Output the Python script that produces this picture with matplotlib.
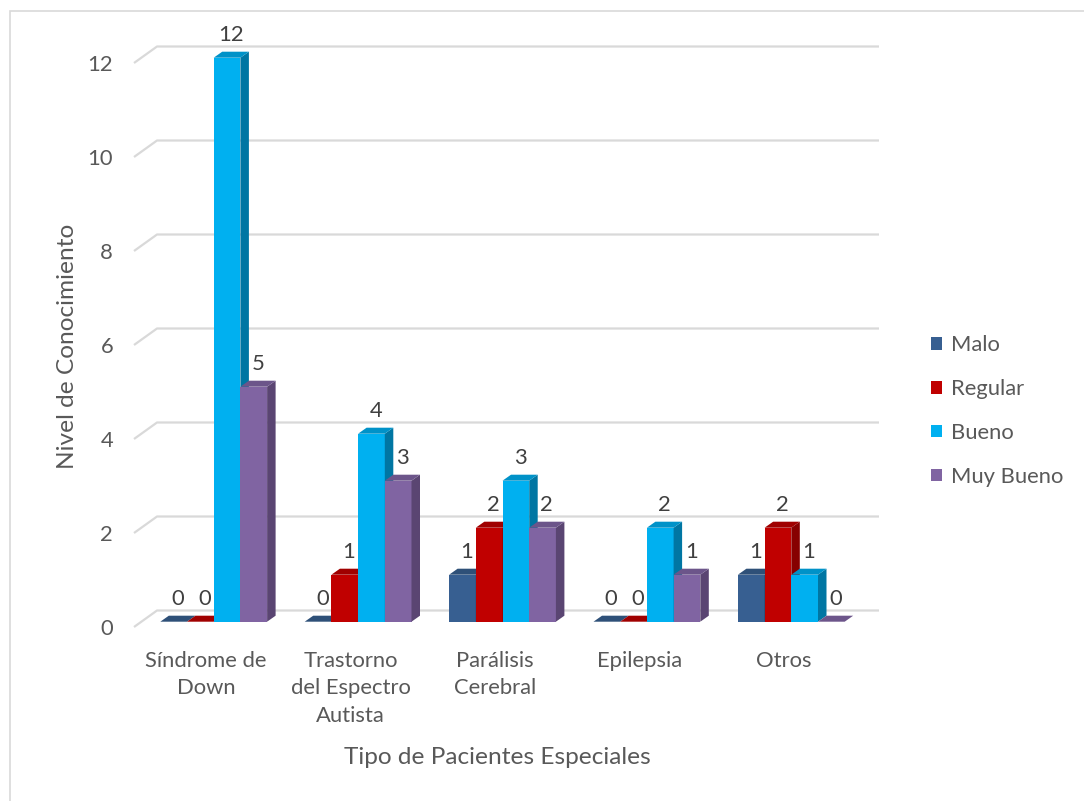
import matplotlib
matplotlib.use('Agg')
import matplotlib.pyplot as plt
from matplotlib.patches import Polygon, Rectangle, Patch

plt.rcParams['font.family'] = ['Lato', 'DejaVu Sans']

categorias = ['Síndrome de\nDown', 'Trastorno\ndel Espectro\nAutista', 'Parálisis\nCerebral', 'Epilepsia', 'Otros']
series = ['Malo', 'Regular', 'Bueno', 'Muy Bueno']
malo = [0, 0, 1, 0, 1]
regular = [0, 1, 2, 0, 2]
bueno = [12, 4, 3, 2, 1]
muy_bueno = [5, 3, 2, 1, 0]
yticks = [0, 2, 4, 6, 8, 10, 12]

datos = [malo, regular, bueno, muy_bueno]
# front, side, top
colores = [('#375F91', '#243F60', '#2E5078'),
           ('#C00000', '#870000', '#A00000'),
           ('#00B0F0', '#0076A3', '#0092C8'),
           ('#8064A2', '#5A4572', '#6C558A')]
gris = '#595959'
fs = 15.8
fs_tit = 17.6

W, H = 1084, 801
fig = plt.figure(figsize=(W / 100, H / 100), dpi=100)
ax = fig.add_axes([134 / W, 1 - 627 / H, 722 / W, 564 / H])
ax.set_xlim(0, 5)
ax.set_ylim(0, 12)

sx, sy = 722 / 5, 564 / 12
wdx, wdy = 23 / sx, 16.5 / sy      # wall depth
bx0, by0 = 7.5 / sx, 5.3 / sy      # bar front plane
bdx, bdy = 8.5 / sx, 6 / sy        # bar depth
bw = 26.7 / sx

# gridlines on back wall + left diagonal
for v in yticks:
    ax.plot([0, wdx, 5 + wdx], [v, v + wdy, v + wdy], color='#D9D9D9', lw=1.6,
            clip_on=False, zorder=0, solid_capstyle='butt')

xs = [i + 0.5 for i in range(len(categorias))]
for j, vals in enumerate(datos):
    fc, sc, tc = colores[j]
    lefts = [x + (j - 2) * bw + bx0 for x in xs]
    bars = ax.bar(lefts, vals, width=bw, bottom=by0, align='edge', color=fc, zorder=10 + 3 * j)
    for b in bars:
        b.set_clip_on(False)
    for x0, v in zip(lefts, vals):
        side = [(x0 + bw, by0), (x0 + bw + bdx, by0 + bdy), (x0 + bw + bdx, by0 + v + bdy), (x0 + bw, by0 + v)]
        top = [(x0, by0 + v), (x0 + bw, by0 + v), (x0 + bw + bdx, by0 + v + bdy), (x0 + bdx, by0 + v + bdy)]
        ax.add_patch(Polygon(side, closed=True, facecolor=sc, edgecolor='none', zorder=11 + 3 * j, clip_on=False))
        ax.add_patch(Polygon(top, closed=True, facecolor=tc, edgecolor='none', zorder=12 + 3 * j, clip_on=False))
        ax.annotate(str(v), (x0 + bw / 2 + bdx / 2, by0 + v + bdy), xytext=(0, 4.5),
                    textcoords='offset points', ha='center', va='bottom', annotation_clip=False,
                    fontsize=fs, color='#404040', zorder=30)

for s in ax.spines.values():
    s.set_visible(False)
ax.set_yticks(yticks)
ax.set_xticks(xs)
ax.set_xticklabels(categorias, linespacing=1.47)
ax.tick_params(axis='y', length=0, pad=15, labelcolor=gris, labelsize=fs)
ax.tick_params(axis='x', length=0, pad=17, labelcolor=gris, labelsize=fs)

fig.text(67 / W, 1 - 346 / H, 'Nivel de Conocimiento', rotation=90, ha='center', va='center',
         fontsize=fs_tit, color=gris)
fig.text(497 / W, 1 - 757 / H, 'Tipo de Pacientes Especiales', ha='center', va='center',
         fontsize=fs_tit, color=gris)

handles = [Patch(facecolor=c[0]) for c in colores]
fig.legend(handles, series, loc='center left', bbox_to_anchor=(931 / W, 1 - 411 / H),
           frameon=False, fontsize=fs, labelcolor=gris, handlelength=0.5, handleheight=0.5,
           handletextpad=0.4, labelspacing=1.08, borderpad=0, borderaxespad=0)

# chart border (only left/top edges inside the image)
fig.add_artist(Rectangle((10 / W, -0.1), 1.2, 1 - 11 / H + 0.1, transform=fig.transFigure,
                         fill=False, edgecolor='#D9D9D9', lw=1.2))

fig.savefig('out.png', dpi=100)
